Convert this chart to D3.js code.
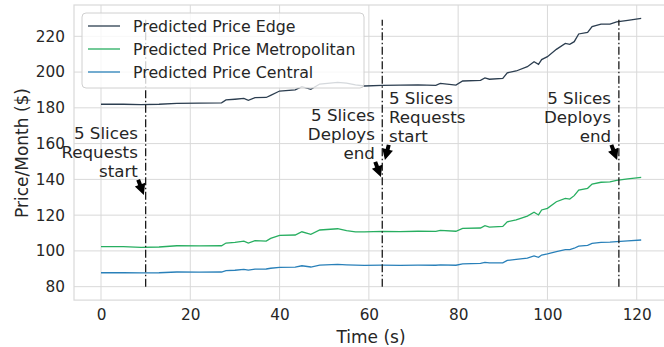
<!DOCTYPE html>
<html>
<head>
<meta charset="utf-8">
<script src="https://cdn.jsdelivr.net/npm/d3@7"></script>
<style>
  body { margin: 0; background: #fff; }
  svg { display: block; font-family: "DejaVu Sans", sans-serif; }
</style>
</head>
<body>
<svg id="chart" width="664" height="347"></svg>
<script>
// time axis (s) shared by the three series
const times = [0, 5, 9, 13, 17, 22, 27, 28, 30, 32, 33, 34.5, 37, 38, 40, 43.5, 45, 47, 49, 53, 55, 57, 59, 63, 67, 71, 75, 76, 79.5, 81, 85, 86, 87, 90, 91, 93, 95.5, 97, 98, 98.7, 100, 102, 104, 105, 106, 107, 109, 110, 112, 114, 115.5, 118, 121];

const edgePrice = [182, 182, 181.8, 182, 182.5, 182.6, 182.8, 184.4, 184.8, 185.3, 184.2, 185.7, 185.8, 187, 189.4, 190, 191.8, 190.3, 193.3, 194.2, 193.8, 192.8, 192.2, 192.6, 192.7, 192.8, 192.6, 193.7, 192.7, 195, 195.4, 196.7, 196, 196.5, 199.6, 200.6, 203, 205.8, 204.3, 207, 208.6, 212.7, 216, 215.5, 217, 221.3, 222.2, 225.4, 226.8, 226.8, 228.1, 228.9, 230];

const metroPrice = [102.4, 102.4, 102, 102.2, 102.9, 102.8, 102.9, 104.4, 104.8, 105.5, 104.4, 105.7, 105.5, 107, 108.7, 108.9, 110.7, 109.3, 111.7, 112.4, 111.3, 110.7, 110.6, 110.9, 110.8, 111, 110.9, 111.5, 111, 112.6, 112.8, 114.1, 113.3, 113.7, 116.3, 117.3, 119.5, 121.6, 120.1, 122.9, 123.8, 127.5, 129.4, 129, 130.9, 134, 135, 137.4, 138.4, 138.6, 139.5, 140.3, 141.1];

const centralPrice = [87.8, 87.8, 87.7, 87.8, 88.2, 88.1, 88.2, 89, 89.2, 89.7, 89.3, 89.8, 89.9, 90.3, 90.8, 90.9, 91.7, 91, 92.1, 92.5, 92.2, 92, 91.9, 92, 91.9, 92, 92, 92.2, 92, 92.7, 93, 93.6, 93.3, 93.3, 94.7, 95.3, 96, 97.2, 96.4, 97.7, 98.3, 99.6, 100.7, 100.7, 101.5, 102.7, 103.1, 104.2, 104.8, 104.9, 105.2, 105.6, 106.1];

const seriesNames = ["Predicted Price Edge", "Predicted Price Metropolitan", "Predicted Price Central"];
const seriesColors = ["#2c3e50", "#27ae60", "#2980b9"];

const xTicks = [0, 20, 40, 60, 80, 100, 120];
const yTicks = [80, 100, 120, 140, 160, 180, 200, 220];

// event markers: time, arrow tip value, label
const eventTimes = [10, 63, 116];
const annotTimes = [9.6, 62.7, 63.6, 115.6];
const annotValues = [131.3, 141.3, 150.8, 150.8];
const annotTexts = [
    ["5 Slices", "Requests", "start"],
    ["5 Slices", "Deploys", "end"],
    ["5 Slices", "Requests", "start"],
    ["5 Slices", "Deploys", "end"]
];
const annotSides = ["left", "left", "right", "left"];

const svg = d3.select("#chart");
const textColor = "#262626";
const gridColor = "#d9d9d9";

const x = d3.scaleLinear().domain([-6.05, 127.05]).range([74, 668.2]);
const y = d3.scaleLinear().domain([72.5, 237.5]).range([300.1, 5]);

// grid
const grid = svg.append("g");
grid.selectAll(".gx").data(xTicks).join("line")
    .attr("x1", d => x(d)).attr("x2", d => x(d))
    .attr("y1", y.range()[0]).attr("y2", y.range()[1])
    .attr("stroke", gridColor).attr("stroke-width", 1);
grid.selectAll(".gy").data(yTicks).join("line")
    .attr("x1", x.range()[0]).attr("x2", x.range()[1])
    .attr("y1", d => y(d)).attr("y2", d => y(d))
    .attr("stroke", gridColor).attr("stroke-width", 1);

// frame
svg.append("rect")
    .attr("x", x.range()[0]).attr("y", y.range()[1])
    .attr("width", x.range()[1] - x.range()[0]).attr("height", y.range()[0] - y.range()[1])
    .attr("fill", "none").attr("stroke", gridColor).attr("stroke-width", 1.2);

// axes
const xAxis = svg.append("g")
    .attr("transform", `translate(0,${y.range()[0]})`)
    .call(d3.axisBottom(x).tickValues(xTicks).tickSize(0).tickPadding(9));
const yAxis = svg.append("g")
    .attr("transform", `translate(${x.range()[0]},0)`)
    .call(d3.axisLeft(y).tickValues(yTicks).tickSize(0).tickPadding(9));
[xAxis, yAxis].forEach(a => {
    a.select(".domain").remove();
    a.selectAll("text").attr("fill", textColor).attr("font-size", 15.3)
        .attr("font-family", "DejaVu Sans");
});

svg.append("text")
    .attr("x", 371).attr("y", 343)
    .attr("text-anchor", "middle").attr("fill", textColor).attr("font-size", 17)
    .text("Time (s)");
svg.append("text")
    .attr("transform", "translate(28,153) rotate(-90)")
    .attr("text-anchor", "middle").attr("fill", textColor).attr("font-size", 17)
    .text("Price/Month ($)");

// lines
const seriesData = [edgePrice, metroPrice, centralPrice];
const line = d3.line().x(d => x(d[0])).y(d => y(d[1]));
svg.append("g").selectAll("path").data(seriesData).join("path")
    .attr("d", vals => line(times.map((t, i) => [t, vals[i]])))
    .attr("fill", "none")
    .attr("stroke", (d, i) => seriesColors[i])
    .attr("stroke-width", 1.3);

// event lines
svg.append("g").selectAll("line").data(eventTimes).join("line")
    .attr("x1", d => x(d)).attr("x2", d => x(d))
    .attr("y1", y(80)).attr("y2", y(229.3))
    .attr("stroke", "#1a1a1a").attr("stroke-width", 1.3)
    .attr("stroke-dasharray", "8,2.5,1.5,2.5");

// annotations
const annot = svg.append("g");
annotTimes.forEach((t, i) => {
    const tx = x(t), ty = y(annotValues[i]);
    const side = annotSides[i];
    const cx = side === "left" ? tx - 6 : tx + 4;
    const cy = ty - 16;
    // arrow from text corner to tip
    const dx = tx - cx, dy = ty - cy;
    const len = Math.hypot(dx, dy);
    const ux = dx / len, uy = dy / len, px = -uy, py = ux;
    const headLen = 11, headW = 5.5, shaftW = 2;
    const sx = tx - ux * len * 0.95, sy = ty - uy * len * 0.95;
    const bx = tx - ux * headLen, by = ty - uy * headLen;
    const pts = [
        [sx + px * shaftW, sy + py * shaftW],
        [bx + px * shaftW, by + py * shaftW],
        [bx + px * headW, by + py * headW],
        [tx, ty],
        [bx - px * headW, by - py * headW],
        [bx - px * shaftW, by - py * shaftW],
        [sx - px * shaftW, sy - py * shaftW]
    ];
    annot.append("polygon")
        .attr("points", pts.map(p => p.join(",")).join(" "))
        .attr("fill", "#000");
    const txt = annot.append("text")
        .attr("fill", textColor).attr("font-size", 16.7)
        .attr("text-anchor", side === "left" ? "end" : "start");
    const lines = annotTexts[i];
    lines.forEach((s, k) => {
        txt.append("tspan")
            .attr("x", cx)
            .attr("y", cy - 2 - (lines.length - 1 - k) * 19)
            .text(s);
    });
});

// legend
const legend = svg.append("g");
legend.append("rect")
    .attr("x", 82).attr("y", 13).attr("width", 282).attr("height", 75).attr("rx", 4)
    .attr("fill", "#fff").attr("fill-opacity", 0.8)
    .attr("stroke", "#d0d0d0").attr("stroke-width", 1);
seriesNames.forEach((name, i) => {
    const ly = 26 + i * 23;
    legend.append("line")
        .attr("x1", 88).attr("x2", 120).attr("y1", ly).attr("y2", ly)
        .attr("stroke", seriesColors[i]).attr("stroke-width", 1.3);
    legend.append("text")
        .attr("x", 133).attr("y", ly).attr("dy", "0.35em")
        .attr("fill", textColor).attr("font-size", 15.8)
        .text(name);
});
</script>
</body>
</html>
